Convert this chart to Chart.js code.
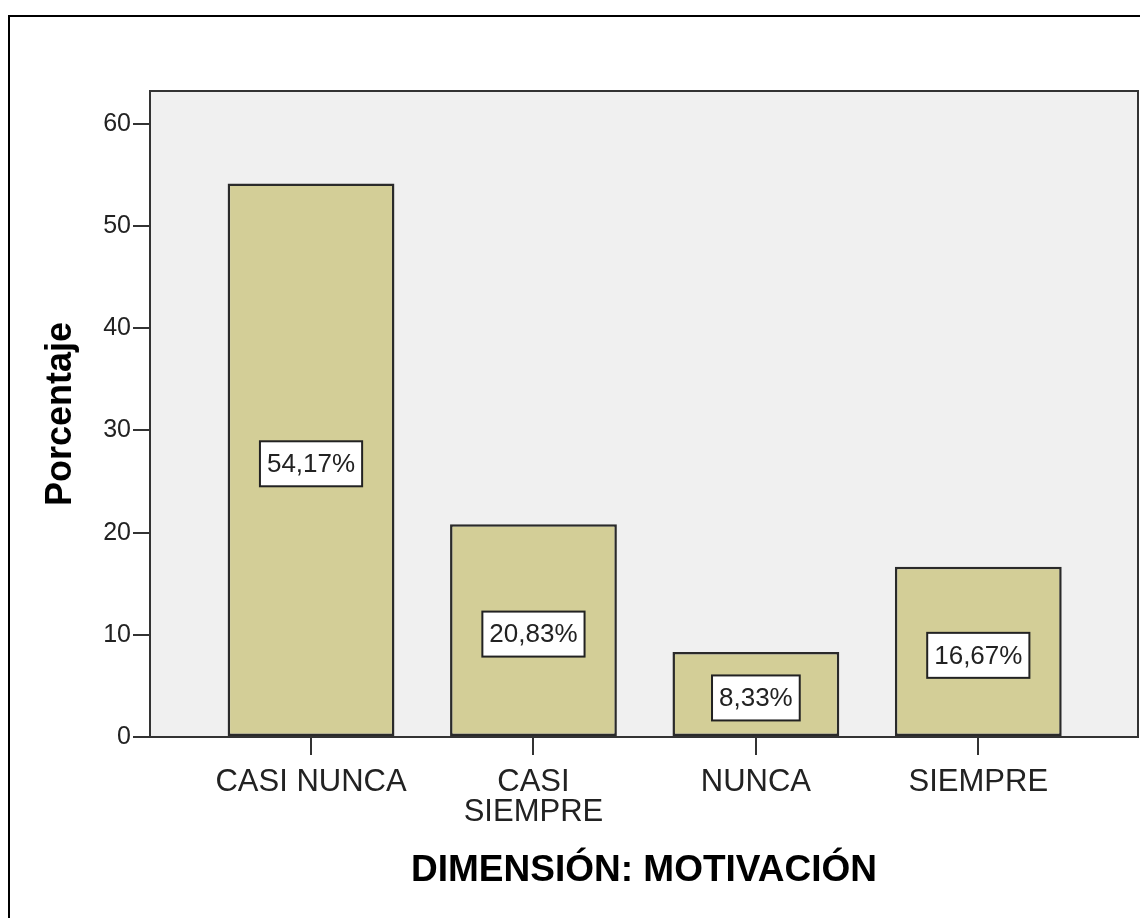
<!DOCTYPE html>
<html>
<head>
<meta charset="utf-8">
<script src="https://cdn.jsdelivr.net/npm/chart.js@4"></script>
<style>
  html, body { margin: 0; padding: 0; background: #fff; overflow: hidden; }
  #frame { position: absolute; left: 8px; top: 15px; width: 1300px; height: 1100px; border: 2px solid #000; }
  #chart { position: absolute; left: 0; top: 0; }
</style>
</head>
<body>
<div id="frame"></div>
<canvas id="chart" width="1140" height="918"></canvas>
<script>
// datos
const categorias = [['CASI NUNCA'], ['CASI', 'SIEMPRE'], ['NUNCA'], ['SIEMPRE']];
const porcentajes = [54.17, 20.83, 8.33, 16.67];
const ticksY = [0, 10, 20, 30, 40, 50, 60];

const FONT = "'Liberation Sans', Arial, Helvetica, sans-serif";
Chart.defaults.font.family = FONT;

// fondo gris y marco del área
const fondoPlugin = {
  id: 'fondo',
  beforeDraw(chart) {
    const { ctx, chartArea: a } = chart;
    ctx.save();
    ctx.fillStyle = '#f0f0f0';
    ctx.fillRect(a.left, a.top, a.right - a.left, a.bottom - a.top);
    ctx.restore();
  },
  afterDraw(chart) {
    const { ctx, chartArea: a } = chart;
    ctx.save();
    ctx.strokeStyle = '#333';
    ctx.lineWidth = 2;
    ctx.strokeRect(a.left, a.top, a.right - a.left, a.bottom - a.top);
    ctx.restore();
  }
};

// etiquetas de porcentaje en recuadro blanco
const etiquetasPlugin = {
  id: 'etiquetas',
  afterDatasetsDraw(chart) {
    const { ctx } = chart;
    const meta = chart.getDatasetMeta(0);
    ctx.save();
    ctx.font = '26px ' + FONT;
    ctx.textAlign = 'center';
    ctx.textBaseline = 'middle';
    meta.data.forEach((bar, i) => {
      const txt = porcentajes[i].toFixed(2).replace('.', ',') + '%';
      const w = ctx.measureText(txt).width + 14;
      const h = 45;
      const cx = bar.x;
      const cy = (bar.y + bar.base) / 2 + 4;
      ctx.fillStyle = '#fff';
      ctx.fillRect(cx - w / 2, cy - h / 2, w, h);
      ctx.strokeStyle = '#222';
      ctx.lineWidth = 2;
      ctx.strokeRect(cx - w / 2, cy - h / 2, w, h);
      ctx.fillStyle = '#222';
      ctx.fillText(txt, cx, cy + 1);
    });
    ctx.restore();
  }
};

new Chart(document.getElementById('chart'), {
  type: 'bar',
  data: {
    datasets: [{
      data: porcentajes.map((v, i) => ({ x: i, y: v })),
      backgroundColor: '#d3ce97',
      borderColor: '#2a2a2a',
      borderWidth: 2.5,
      borderSkipped: false,
      barPercentage: 0.75,
      categoryPercentage: 1
    }]
  },
  options: {
    responsive: false,
    animation: false,
    layout: { padding: { left: 39, top: 91, right: 2, bottom: 25 } },
    plugins: { legend: { display: false }, tooltip: { enabled: false } },
    scales: {
      x: {
        type: 'linear',
        offset: false,
        min: -0.724,
        max: 3.718,
        afterBuildTicks: (s) => { s.ticks = categorias.map((c, i) => ({ value: i })); },
        afterFit: (s) => { s.height = 156; },
        grid: { offset: false, drawOnChartArea: false, drawTicks: true, tickLength: 18, color: '#333', lineWidth: 2 },
        border: { display: true, color: '#333', width: 2 },
        ticks: {
          autoSkip: false,
          maxRotation: 0,
          padding: 12,
          color: '#222',
          font: { size: 31, lineHeight: 0.98 },
          callback: (v) => categorias[v]
        },
        title: {
          display: true,
          text: 'DIMENSIÓN: MOTIVACIÓN',
          color: '#000',
          padding: 0,
          font: { size: 37, weight: 'bold', lineHeight: 1.2 }
        }
      },
      y: {
        min: 0,
        max: 63.23,
        afterBuildTicks: (s) => { s.ticks = ticksY.map(v => ({ value: v })); },
        afterFit: (s) => { s.width = 111; },
        grid: { drawOnChartArea: false, drawTicks: true, tickLength: 17, color: '#333', lineWidth: 2 },
        border: { display: true, color: '#333', width: 2 },
        ticks: { padding: 2, color: '#222', font: { size: 25 } },
        title: {
          display: true,
          text: 'Porcentaje',
          color: '#000',
          padding: 0,
          font: { size: 36, weight: 'bold', lineHeight: 1.2 }
        }
      }
    }
  },
  plugins: [fondoPlugin, etiquetasPlugin]
});
</script>
</body>
</html>
